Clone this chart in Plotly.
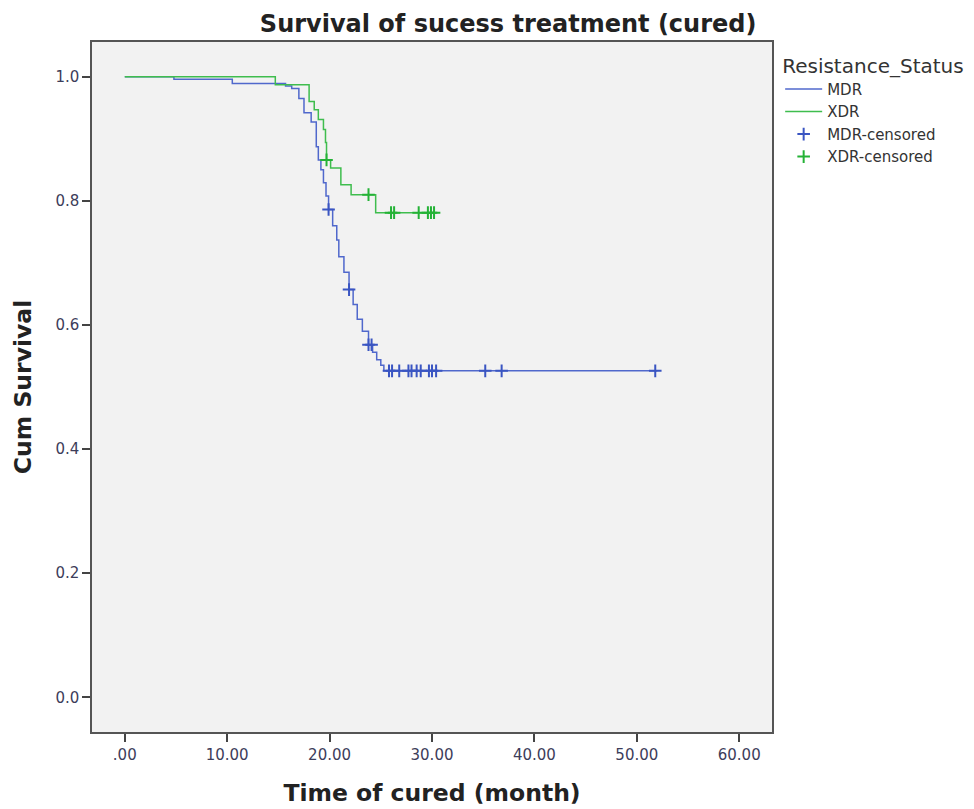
import plotly.graph_objects as go

# ---- data (Kaplan-Meier step curves) ----
mdr_time = [0.0, 4.8, 10.5, 15.7, 16.3, 17.0, 17.5, 18.2, 18.7, 18.9, 19.15, 19.4, 19.65, 19.9,
            20.3, 20.7, 20.9, 21.4, 21.9, 22.3, 22.7, 23.2, 23.8, 24.2, 24.6, 25.0, 25.3, 52.0]
mdr_surv = [1.000, 0.996, 0.989, 0.985, 0.981, 0.965, 0.942, 0.927, 0.887, 0.866, 0.850, 0.829, 0.808, 0.786,
            0.760, 0.737, 0.710, 0.685, 0.657, 0.633, 0.609, 0.590, 0.568, 0.556, 0.544, 0.535, 0.526, 0.526]
mdr_cens_time = [19.9, 21.9, 23.8, 24.1, 25.8, 26.1, 26.8, 27.7, 28.0, 28.5, 28.9, 29.7, 30.0, 30.4,
                 35.2, 36.8, 51.8]

xdr_time = [0.0, 14.7, 18.0, 18.5, 18.9, 19.4, 19.6, 19.7, 20.1, 21.1, 22.1, 24.5, 30.4]
xdr_surv = [1.000, 0.987, 0.960, 0.947, 0.931, 0.915, 0.894, 0.866, 0.853, 0.826, 0.810, 0.781, 0.781]
xdr_cens_time = [19.7, 23.8, 26.0, 26.3, 28.7, 29.6, 29.9, 30.2]

x_tickvals = [0, 10, 20, 30, 40, 50, 60]
x_ticktext = [".00", "10.00", "20.00", "30.00", "40.00", "50.00", "60.00"]
y_tickvals = [0.0, 0.2, 0.4, 0.6, 0.8, 1.0]
y_ticktext = ["0.0", "0.2", "0.4", "0.6", "0.8", "1.0"]


def surv_at(t, times, surv):
    val = surv[0]
    for tt, ss in zip(times, surv):
        if tt <= t:
            val = ss
    return val


mdr_cens_surv = [surv_at(t, mdr_time, mdr_surv) for t in mdr_cens_time]
xdr_cens_surv = [surv_at(t, xdr_time, xdr_surv) for t in xdr_cens_time]

BLUE = "#5068cc"
GREEN = "#3fbd4e"
BLUE_M = "#3a55c2"
GREEN_M = "#24b236"
FONT = "DejaVu Sans"
TICKC = "#3d3d5a"

fig = go.Figure()
fig.add_trace(go.Scatter(x=mdr_time, y=mdr_surv, mode="lines", name="MDR",
                         line=dict(color=BLUE, width=1.5, shape="hv")))
fig.add_trace(go.Scatter(x=xdr_time, y=xdr_surv, mode="lines", name="XDR",
                         line=dict(color=GREEN, width=1.5, shape="hv")))
fig.add_trace(go.Scatter(x=mdr_cens_time, y=mdr_cens_surv, mode="markers", name="MDR-censored",
                         marker=dict(symbol="cross-thin", size=9, color=BLUE_M,
                                     line=dict(color=BLUE_M, width=2))))
fig.add_trace(go.Scatter(x=xdr_cens_time, y=xdr_cens_surv, mode="markers", name="XDR-censored",
                         marker=dict(symbol="cross-thin", size=9, color=GREEN_M,
                                     line=dict(color=GREEN_M, width=2))))

fig.update_layout(
    width=966, height=801,
    margin=dict(l=84, r=202, t=34, b=77, autoexpand=False),
    paper_bgcolor="white",
    plot_bgcolor="#f2f2f2",
    font=dict(family=FONT, color="#333"),
    title=dict(text="<b>Survival of sucess treatment (cured)</b>", x=0.612, xanchor="center",
               xref="paper", y=0.98, yanchor="middle", yref="container",
               font=dict(family=FONT, size=24, color="#222")),
    legend=dict(x=1.012, xanchor="left", y=0.993, yanchor="top",
                title=dict(text="Resistance_Status", font=dict(family=FONT, size=20, color="#333")),
                font=dict(family=FONT, size=15, color="#333"),
                bgcolor="rgba(0,0,0,0)", tracegroupgap=0, itemwidth=37),
    showlegend=True,
)
fig.update_xaxes(range=[-3.2, 63.2], tickvals=x_tickvals, ticktext=x_ticktext,
                 automargin=False,
                 showgrid=False, zeroline=False, showline=True, mirror=True,
                 linecolor="#555", linewidth=1.5, ticks="outside", ticklen=8,
                 tickcolor="#444", tickwidth=1.5,
                 tickfont=dict(family=FONT, size=15, color=TICKC),
                 title=dict(text="<b>Time of cured (month)</b>", standoff=22,
                            font=dict(family=FONT, size=23.5, color="#222")))
fig.update_yaxes(range=[-0.056, 1.056], tickvals=y_tickvals, ticktext=y_ticktext,
                 automargin=False,
                 showgrid=False, zeroline=False, showline=True, mirror=True,
                 linecolor="#555", linewidth=1.5, ticks="outside", ticklen=8,
                 tickcolor="#444", tickwidth=1.5,
                 tickfont=dict(family=FONT, size=15, color=TICKC),
                 title=dict(text="<b>Cum Survival</b>", standoff=17,
                            font=dict(family=FONT, size=23.5, color="#222")))

fig.write_html("out.html")
